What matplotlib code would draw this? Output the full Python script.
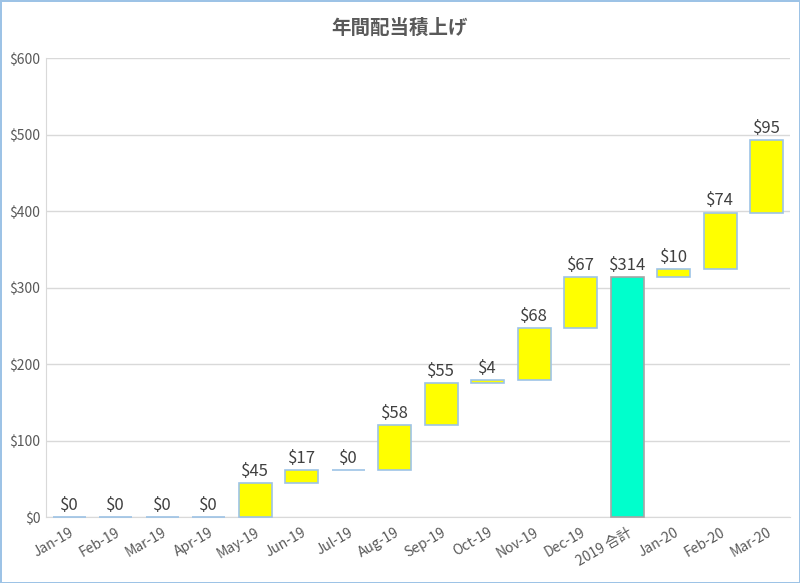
import numpy as np
import matplotlib
matplotlib.use("Agg")
import matplotlib.pyplot as plt

plt.rcParams['font.family'] = ['Noto Sans CJK JP', 'DejaVu Sans']

# Datos del grafico
categorias = ['Jan-19', 'Feb-19', 'Mar-19', 'Apr-19', 'May-19', 'Jun-19', 'Jul-19',
              'Aug-19', 'Sep-19', 'Oct-19', 'Nov-19', 'Dec-19', '2019 合計',
              'Jan-20', 'Feb-20', 'Mar-20']
valores = [0, 0, 0, 0, 45, 17, 0, 58, 55, 4, 68, 67, 314, 10, 74, 95]
es_total = [False] * 12 + [True] + [False] * 3
titulo = '年間配当積上げ'
yticks = [0, 100, 200, 300, 400, 500, 600]

# Calcula las bases de la cascada
bases = []
acum = 0
for v, t in zip(valores, es_total):
    if t:
        bases.append(0)
    else:
        bases.append(acum)
        acum += v

colores = ['#00FFCC' if t else '#FFFF00' for t in es_total]
bordes = ['#A6A6A6' if t else '#9DC3E6' for t in es_total]

fig = plt.figure(figsize=(8, 5.83), dpi=100)
fig.patch.set_edgecolor('#9DC3E6')
fig.patch.set_linewidth(2)
ax = fig.add_axes([0.0575, 0.1132, 0.93, 0.7873])

x = np.arange(len(categorias))
barras = ax.bar(x, valores, bottom=bases, width=0.7, color=colores, edgecolor=bordes,
                linewidth=1.2, zorder=3)
for b in barras:
    b.set_clip_on(False)

for xi, v, b in zip(x, valores, bases):
    ax.text(xi, b + v + 4, '$%d' % v, ha='center', va='bottom',
            fontsize=12, color='#404040', zorder=4)

ax.set_xlim(-0.5, len(categorias) - 0.5)
ax.set_ylim(0, 600)
ax.set_yticks(yticks)
ax.set_yticklabels(['$%d' % t for t in yticks])
ax.set_xticks(x)
ax.set_xticklabels(categorias, rotation=30, ha='right', rotation_mode='anchor')
ax.tick_params(axis='both', labelsize=10, labelcolor='#595959', length=0)
ax.tick_params(axis='x', pad=6)
ax.tick_params(axis='y', pad=4)

ax.grid(axis='y', color='#D9D9D9', linewidth=1, zorder=0)
for s in ['top', 'right']:
    ax.spines[s].set_visible(False)
ax.spines['left'].set_color('#D9D9D9')
ax.spines['bottom'].set_color('#D9D9D9')
ax.spines['bottom'].set_zorder(1)

fig.text(0.5, 0.952, titulo, ha='center', va='center', fontsize=14,
         fontweight='bold', color='#595959')

fig.savefig('out.png', dpi=100)
